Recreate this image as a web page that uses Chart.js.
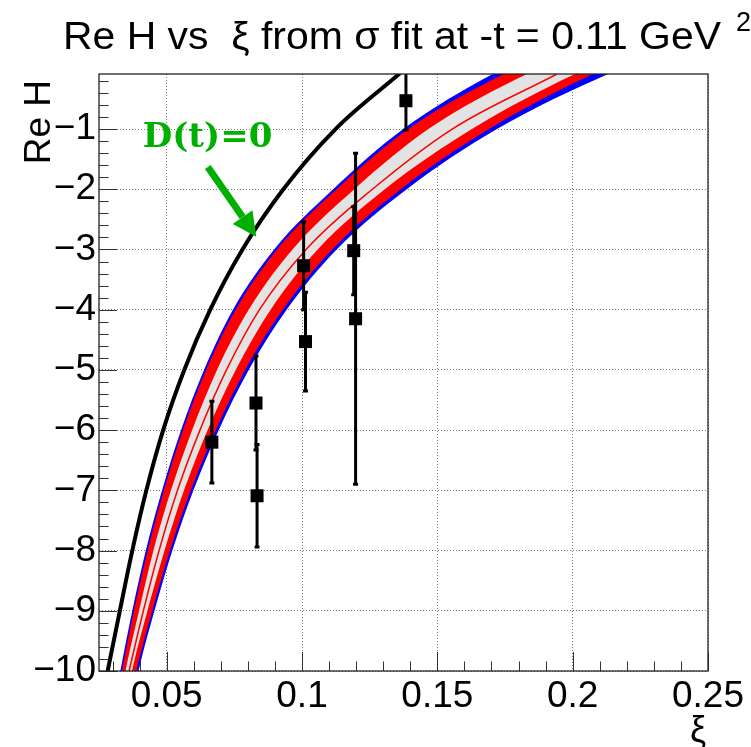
<!DOCTYPE html>
<html>
<head>
<meta charset="utf-8">
<script src="https://cdn.jsdelivr.net/npm/chart.js@4.4.1/dist/chart.umd.min.js"></script>
<style>
  html, body { margin: 0; padding: 0; background: #fff; }
  #wrap { width: 751px; height: 747px; position: relative; }
</style>
</head>
<body>
<div id="wrap"><canvas id="c"></canvas></div>
<script>
// Re H vs xi from the sigma fit at -t = 0.11 GeV^2

// measured points with their error bars
const dataXi  = [0.0667, 0.0830, 0.0834, 0.1006, 0.1013, 0.1191, 0.1198, 0.1384];
const dataReH = [-6.20, -5.55, -7.09, -3.27, -4.53, -3.02, -4.15, -0.53];
const dataErr = [0.68, 0.78, 0.85, 0.73, 0.82, 0.73, 2.75, 0.49];

// D(t)=0 curve
const dtZeroXi  = [0.0282, 0.0327, 0.0373, 0.0425, 0.0487, 0.0565, 0.0661, 0.0780, 0.0931, 0.1124, 0.1363];
const dtZeroReH = [-10, -9, -8, -7, -6, -5, -4, -3, -2, -1, -0.07];

// fit band edges, sampled at these Re H levels (last one = top of the frame)
const bandReH = [-10, -9, -8, -7, -6, -5, -4, -3, -2, -1, -0.086];
const blueHiXi = [0.0329, 0.0373, 0.0423, 0.0483, 0.0553, 0.0638, 0.0745, 0.0897, 0.1115, 0.1374, 0.1705];
const redHiXi  = [0.0335, 0.0379, 0.0430, 0.0490, 0.0560, 0.0646, 0.0755, 0.0908, 0.1128, 0.1393, 0.1746];
const greyHiXi = [0.0348, 0.0398, 0.0451, 0.0516, 0.0594, 0.0686, 0.0803, 0.0965, 0.1193, 0.1467, 0.1831];
const centreXi = [0.0361, 0.0414, 0.0472, 0.0540, 0.0623, 0.0721, 0.0843, 0.1015, 0.1260, 0.1555, 0.1942];
const greyLoXi = [0.0372, 0.0429, 0.0492, 0.0564, 0.0651, 0.0755, 0.0884, 0.1058, 0.1306, 0.1628, 0.2009];
const redLoXi  = [0.0388, 0.0447, 0.0512, 0.0589, 0.0681, 0.0790, 0.0929, 0.1112, 0.1365, 0.1691, 0.2075];
const blueLoXi = [0.0396, 0.0455, 0.0521, 0.0599, 0.0692, 0.0803, 0.0943, 0.1128, 0.1387, 0.1720, 0.2131];
// where the band edges continue outside the frame (Re H at xi = 0.025 and xi = 0.25)
// order: blueHi, redHi, greyHi, greyLo, redLo, blueLo
const edgeReHAtLeft  = [-12.0, -12.1, -12.4, -12.8, -13.0, -13.2];
const edgeReHAtRight = [1.6, 1.4, 1.2, 0.8, 0.7, 0.55];

const xTickValues = [0.05, 0.1, 0.15, 0.2, 0.25];
const xTickLabels = ['0.05', '0.1', '0.15', '0.2', '0.25'];
const yTickValues = [-10, -9, -8, -7, -6, -5, -4, -3, -2, -1];
const yTickLabels = ['\u221210', '\u22129', '\u22128', '\u22127', '\u22126', '\u22125', '\u22124', '\u22123', '\u22122', '\u22121'];

const X_MIN = 0.025, X_MAX = 0.25, Y_MIN = -10, Y_MAX = -0.086;

// annotation (data units)
const noteText = 'D(t)=0';
const noteAt = [0.0651, -1.30];
const arrowFrom = [0.0652, -1.63];
const arrowTo = [0.0831, -2.79];

function pts(xs, ys) {
    return xs.map((x, i) => ({x: x, y: ys[i]}));
}
function edge(xs, k) {
    return [{x: X_MIN, y: edgeReHAtLeft[k]}].concat(pts(xs, bandReH), [{x: X_MAX, y: edgeReHAtRight[k]}]);
}

const lineBase = {
    type: 'line',
    pointRadius: 0,
    cubicInterpolationMode: 'monotone',
    borderWidth: 0,
    borderColor: 'rgba(0,0,0,0)'
};

const FONT = '"Liberation Sans", Arial, sans-serif';

// error bars, frame, inward ticks, titles and the arrow
const rootStyle = {
    id: 'rootStyle',
    beforeDatasetDraw(chart, args) {
        if (args.index !== 0) return;
        const {ctx, chartArea: a, scales: {x, y}} = chart;
        ctx.save();
        ctx.beginPath();
        ctx.rect(a.left, a.top, a.right - a.left, a.bottom - a.top);
        ctx.clip();
        ctx.strokeStyle = '#000';
        ctx.lineWidth = 3;
        dataXi.forEach((xi, i) => {
            const px = x.getPixelForValue(xi);
            const top = y.getPixelForValue(dataReH[i] + dataErr[i]);
            const bot = y.getPixelForValue(dataReH[i] - dataErr[i]);
            ctx.beginPath();
            ctx.moveTo(px, top); ctx.lineTo(px, bot);
            ctx.moveTo(px - 2.5, top); ctx.lineTo(px + 2.5, top);
            ctx.moveTo(px - 2.5, bot); ctx.lineTo(px + 2.5, bot);
            ctx.stroke();
        });
        ctx.restore();
    },
    afterDraw(chart) {
        const {ctx, chartArea: a, scales: {x, y}} = chart;
        ctx.save();

        // ticks pointing inwards
        ctx.strokeStyle = '#333';
        ctx.lineWidth = 1;
        ctx.beginPath();
        for (let i = 0; i <= 22; i++) {
            const v = Math.round((0.03 + i * 0.01) * 1000) / 1000;
            if (v > X_MAX) break;
            const px = Math.round(x.getPixelForValue(v)) + 0.5;
            const len = (Math.round(v * 100) % 5 === 0) ? 19 : 9.5;
            ctx.moveTo(px, a.bottom); ctx.lineTo(px, a.bottom - len);
        }
        for (let i = 0; i <= 50; i++) {
            const v = Y_MIN + i * 0.2;
            if (v > Y_MAX) break;
            const py = Math.round(y.getPixelForValue(v)) + 0.5;
            const len = (i % 5 === 0) ? 18 : 9.5;
            ctx.moveTo(a.left, py); ctx.lineTo(a.left + len, py);
        }
        ctx.stroke();

        // frame
        ctx.strokeStyle = '#222';
        ctx.lineWidth = 1.3;
        ctx.strokeRect(a.left, a.top, a.right - a.left, a.bottom - a.top);

        // title, stretched to the width it has in the original
        ctx.fillStyle = '#000';
        ctx.font = '38px ' + FONT;
        ctx.textBaseline = 'alphabetic';
        ctx.textAlign = 'left';
        const title = 'Re H vs  \u03be from \u03c3 fit at -t = 0.11 GeV';
        const tw = ctx.measureText(title).width;
        ctx.save();
        ctx.translate(63, 49);
        ctx.scale(658 / tw, 1);
        ctx.fillText(title, 0, 0);
        ctx.restore();
        ctx.font = '27px ' + FONT;
        ctx.fillText('2', 736, 31);

        // axis titles
        ctx.font = '37px ' + FONT;
        ctx.save();
        ctx.translate(50, 80);
        ctx.rotate(-Math.PI / 2);
        ctx.textAlign = 'right';
        ctx.fillText('Re H', 0, 0);
        ctx.restore();
        ctx.textAlign = 'right';
        ctx.font = '36px ' + FONT;
        ctx.fillText('\u03be', 706, 742);

        // D(t)=0 note and arrow
        const green = '#00b000';
        ctx.fillStyle = green;
        ctx.font = 'bold 34px "DejaVu Serif", serif';
        ctx.textAlign = 'center';
        ctx.fillText(noteText, x.getPixelForValue(noteAt[0]), y.getPixelForValue(noteAt[1]));
        const x0 = x.getPixelForValue(arrowFrom[0]), y0 = y.getPixelForValue(arrowFrom[1]);
        const x1 = x.getPixelForValue(arrowTo[0]), y1 = y.getPixelForValue(arrowTo[1]);
        const ang = Math.atan2(y1 - y0, x1 - x0);
        const head = 24, half = 12;
        const bx = x1 - head * Math.cos(ang), by = y1 - head * Math.sin(ang);
        ctx.strokeStyle = green;
        ctx.lineWidth = 7;
        ctx.beginPath();
        ctx.moveTo(x0, y0); ctx.lineTo(bx, by);
        ctx.stroke();
        ctx.beginPath();
        ctx.moveTo(x1, y1);
        ctx.lineTo(bx + half * Math.sin(ang), by - half * Math.cos(ang));
        ctx.lineTo(bx - half * Math.sin(ang), by + half * Math.cos(ang));
        ctx.closePath();
        ctx.fill();

        ctx.restore();
    }
};

new Chart(document.getElementById('c'), {
    type: 'line',
    data: {
        datasets: [
            {   // 0: measured points
                type: 'line',
                data: pts(dataXi, dataReH),
                showLine: false,
                pointStyle: 'rect',
                pointRadius: 9.2,
                pointBackgroundColor: '#000',
                pointBorderColor: '#000',
                pointBorderWidth: 0
            },
            Object.assign({}, lineBase, {   // 1: D(t)=0
                data: pts(dtZeroXi, dtZeroReH),
                borderColor: '#000',
                borderWidth: 4
            }),
            Object.assign({}, lineBase, {   // 2: central fit
                data: pts(centreXi, bandReH),
                borderColor: '#ff0000',
                borderWidth: 1.5
            }),
            Object.assign({}, lineBase, {   // 3: grey band
                data: edge(greyHiXi, 2), fill: 4, backgroundColor: '#e3e3e3'
            }),
            Object.assign({}, lineBase, {data: edge(greyLoXi, 3)}),
            Object.assign({}, lineBase, {   // 5: red band
                data: edge(redHiXi, 1), fill: 6, backgroundColor: '#ff0000'
            }),
            Object.assign({}, lineBase, {data: edge(redLoXi, 4)}),
            Object.assign({}, lineBase, {   // 7: blue band
                data: edge(blueHiXi, 0), fill: 8, backgroundColor: '#0000ff'
            }),
            Object.assign({}, lineBase, {data: edge(blueLoXi, 5)})
        ]
    },
    options: {
        responsive: true,
        maintainAspectRatio: false,
        devicePixelRatio: 1,
        animation: false,
        events: [],
        layout: {padding: {top: 74, right: 43, bottom: 0, left: 0}},
        plugins: {
            legend: {display: false},
            tooltip: {enabled: false},
            title: {display: false}
        },
        scales: {
            x: {
                type: 'linear',
                min: X_MIN,
                max: X_MAX,
                afterFit(s) { s.height = 76; },
                afterBuildTicks(s) { s.ticks = xTickValues.map(v => ({value: v})); },
                ticks: {
                    callback: v => xTickLabels[xTickValues.indexOf(v)],
                    font: {family: FONT, size: 37},
                    color: '#000',
                    padding: 4,
                    maxRotation: 0,
                    autoSkip: false
                },
                grid: {color: '#7a7a7a', lineWidth: 1, drawTicks: false},
                border: {display: false, dash: [1, 2]}
            },
            y: {
                type: 'linear',
                min: Y_MIN,
                max: Y_MAX,
                afterFit(s) { s.width = 99; },
                afterBuildTicks(s) { s.ticks = yTickValues.map(v => ({value: v})); },
                ticks: {
                    callback: v => yTickLabels[yTickValues.indexOf(v)],
                    font: {family: FONT, size: 37},
                    color: '#000',
                    padding: 3,
                    autoSkip: false
                },
                grid: {color: '#7a7a7a', lineWidth: 1, drawTicks: false},
                border: {display: false, dash: [1, 2]}
            }
        }
    },
    plugins: [rootStyle]
});
</script>
</body>
</html>
